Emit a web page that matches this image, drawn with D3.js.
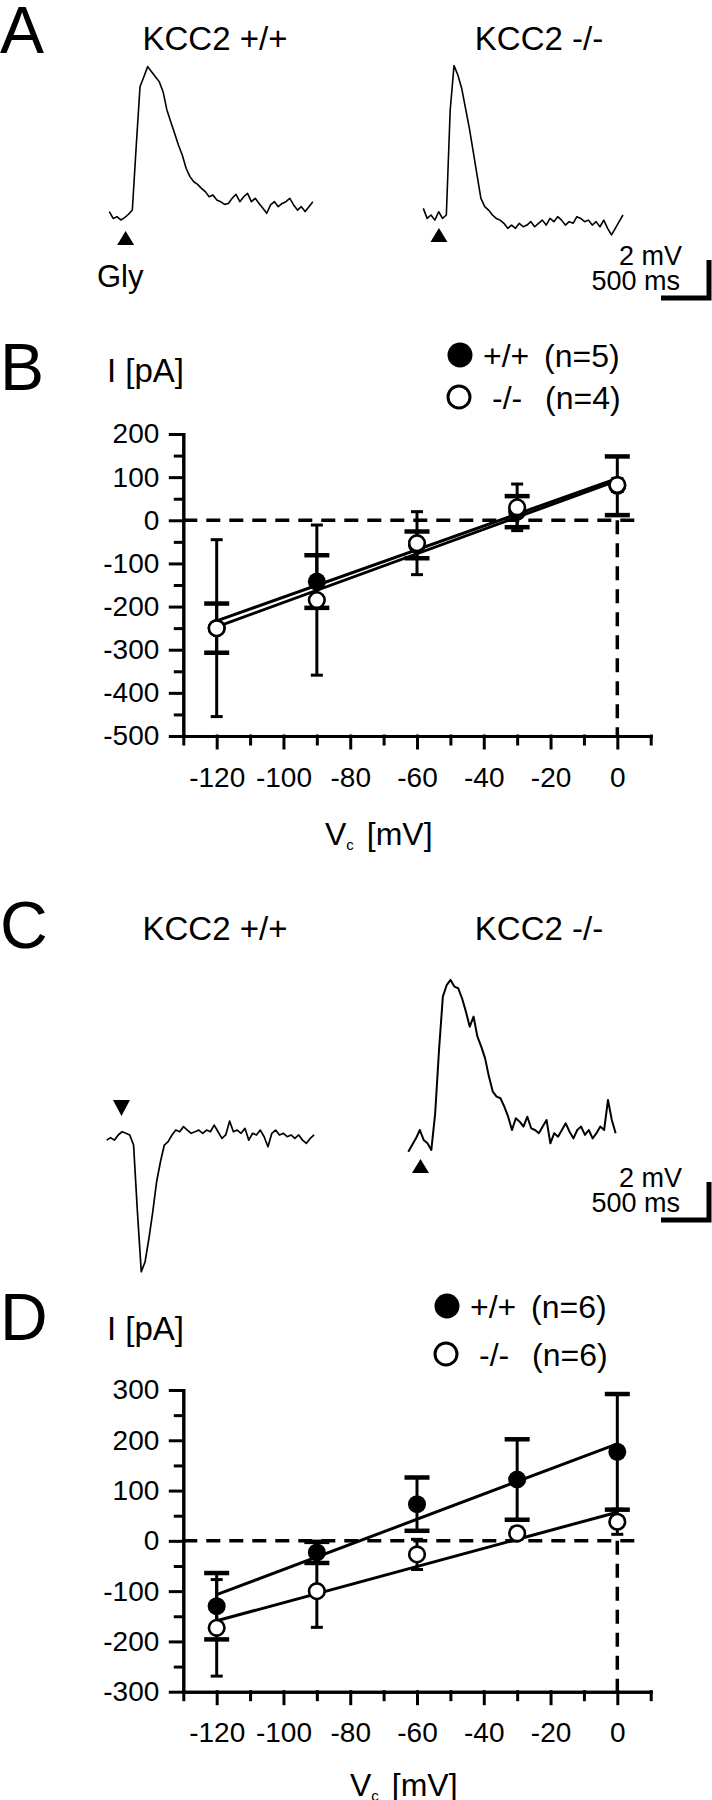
<!DOCTYPE html>
<html lang="en">
  <head>
    <meta charset="UTF-8" />
    <title>KCC2 glycine responses</title>
    <script src="https://d3js.org/d3.v7.min.js"></script>
    <style>
      body { margin: 0; background: #fff; }
      svg { font-family: "Liberation Sans", Arial, sans-serif; }
      .axis path, .axis line { stroke: #000; stroke-width: 3; stroke-linecap: square; }
      .axis text { font-size: 28px; fill: #000; font-family: "Liberation Sans", Arial, sans-serif; }
    </style>
  </head>
  <body>
    <div id="chart"></div>
    <script>
      // ---- voltage traces, mV relative to baseline, one sample every 40 ms ----
      const traceStep = 40;
      const traceA_wt = [0.18,-0.18,-0.09,-0.26,-0.14,0.04,0.26,3.6,6.75,7.28,7.81,7.54,7.28,7.02,6.49,5.53,4.91,4.30,3.68,3.16,2.46,2.02,1.75,1.61,1.40,1.23,0.96,1.05,0.79,0.70,0.56,0.61,0.88,1.09,0.70,0.96,1.14,0.70,0.88,0.61,0.35,0.09,0.53,0.70,0.44,0.61,0.70,0.88,0.53,0.26,0.44,0.18,0.44,0.70];
      const traceA_ko = [0.44,-0.09,0.09,-0.18,0.26,-0.09,0.09,5.6,7.95,7.46,6.75,5.70,4.65,3.42,2.19,0.96,0.53,0.35,0.09,-0.09,-0.18,-0.35,-0.61,-0.44,-0.61,-0.35,-0.53,-0.44,-0.26,-0.53,-0.35,-0.18,-0.44,-0.09,-0.26,0.00,-0.18,-0.44,-0.26,-0.35,0.00,-0.09,-0.26,-0.18,-0.44,-0.26,-0.53,-0.18,-0.61,-0.96,-0.61,-0.26,0.09];
      const traceC_wt = [-0.18,-0.05,-0.18,0.09,0.26,0.18,0.09,-0.44,-3.95,-7.11,-6.58,-5.35,-3.95,-2.37,-1.32,-0.44,-0.26,0.09,0.35,0.26,0.53,0.35,0.18,0.26,0.35,0.18,0.35,0.26,0.61,0.26,-0.09,0.09,0.82,0.26,0.35,0.18,0.44,-0.18,0.18,0.09,0.35,0.00,-0.53,0.18,0.35,0.09,0.18,0.00,0.09,-0.09,0.09,-0.18,-0.35,-0.09,0.09];
      const traceC_ko = [-0.44,-0.09,0.26,0.70,0.18,0.00,-0.35,1.58,4.91,7.72,8.33,8.60,8.25,8.16,7.63,6.93,6.14,6.67,5.61,5.09,4.47,3.51,2.72,2.46,2.37,1.93,1.40,0.70,1.32,1.14,0.88,1.40,0.79,0.70,0.53,0.88,1.23,0.00,0.53,0.35,0.70,1.05,0.61,0.26,0.70,0.88,0.44,0.70,0.26,0.53,0.88,0.70,2.28,1.23,0.53];
      // glycine application time (ms from trace start): A +/+, A -/-, C +/+, C -/-
      const stimTimes = [170, 163, 154, 127];

      // ---- I/V data ----
      const vc = [-120, -90, -60, -30, 0];
      const ivB_wt = [-250, -142, -57, 20, 80];
      const ivB_wtErr = [57, 61, 31, 36, 68];
      const ivB_ko = [-250, -185, -53, 30, 82];
      const ivB_koErr = [205, 174, 73, 54, 15];
      const fitB_wt = [-233, 97];
      const fitB_ko = [-247, 92];
      const ivD_wt = [-130, -23, 73, 122, 177];
      const ivD_wtErr = [66, 21, 53, 80, 115];
      const ivD_ko = [-173, -100, -27, 15, 38];
      const ivD_koErr = [96, 72, 30, 12, 25];
      const fitD_wt = [-107, 193];
      const fitD_ko = [-159, 57];
      const fitV = [-120, 0];

      const vTicks = [-120, -100, -80, -60, -40, -20, 0];
      const vMinor = [-130, -110, -90, -70, -50, -30, -10, 10];
      const iTicksB = [200, 100, 0, -100, -200, -300, -400, -500];
      const iTicksD = [300, 200, 100, 0, -100, -200, -300];

      const svg = d3.select('#chart').append('svg')
        .attr('width', 712).attr('height', 1800);

      function label(x, y, str, size, anchor) {
        return svg.append('text')
          .attr('x', x).attr('y', y)
          .attr('font-size', size + 'px')
          .attr('text-anchor', anchor || 'start')
          .text(str);
      }

      // panel letters and titles
      label(0, 53, 'A', 66);
      label(0, 390, 'B', 66);
      label(0, 948, 'C', 66);
      label(0, 1340, 'D', 66);
      label(215, 50, 'KCC2 +/+', 33, 'middle');
      label(539, 50, 'KCC2 -/-', 33, 'middle');
      label(215, 940, 'KCC2 +/+', 33, 'middle');
      label(539, 940, 'KCC2 -/-', 33, 'middle');
      label(97, 287, 'Gly', 31);

      // ---- traces ----
      function drawTrace(data, stim, x0, y0, tipY, up, sw) {
        const x = d3.scaleLinear().domain([0, 500]).range([x0, x0 + 48]);
        const y = d3.scaleLinear().domain([0, 2]).range([y0, y0 - 38]);
        const line = d3.line().x((d, i) => x(i * traceStep)).y((d) => y(d));
        svg.append('path').datum(data)
          .attr('d', line)
          .attr('fill', 'none')
          .attr('stroke', '#000')
          .attr('stroke-width', sw)
          .attr('stroke-linejoin', 'round');
        const sx = x(stim);
        const base = up ? tipY + 14 : tipY - 16;
        svg.append('path')
          .attr('d', `M${sx},${tipY}L${sx - 8.5},${base}L${sx + 8.5},${base}Z`)
          .attr('fill', '#000');
        return { x, y };
      }

      const tA = drawTrace(traceA_wt, stimTimes[0], 109.3, 215, 231, true, 1.6);
      drawTrace(traceA_ko, stimTimes[1], 423.3, 216.7, 228, true, 1.6);
      drawTrace(traceC_wt, stimTimes[2], 106.7, 1136.7, 1116, false, 1.7);
      drawTrace(traceC_ko, stimTimes[3], 408.3, 1143.3, 1159, true, 2);

      // scale bars 500 ms / 2 mV
      function scaleBar(cx, cy) {
        const w = tA.x(500) - tA.x(0);
        const h = tA.y(0) - tA.y(2);
        svg.append('path')
          .attr('d', `M${cx - w},${cy}H${cx}V${cy - h}`)
          .attr('fill', 'none')
          .attr('stroke', '#000')
          .attr('stroke-width', 5);
        label(682, cy - 33, '2 mV', 27, 'end');
        label(680, cy - 8, '500 ms', 27, 'end');
      }
      scaleBar(709, 298);
      scaleBar(709, 1220);

      // ---- I/V panels ----
      const hyphen = (d) => String(d);

      function drawIV(o) {
        const x = d3.scaleLinear().domain([-130, 10]).range([183.3, 650.7]);
        const y = d3.scaleLinear().domain([o.ticks[0], o.ticks[o.ticks.length - 1]])
          .range([o.top, o.bottom]);
        const g = svg.append('g');
        const yMinor = o.ticks.slice(1).map((v, i) => (v + o.ticks[i]) / 2);

        g.append('g').attr('class', 'axis')
          .attr('transform', `translate(${x(-130)},0)`)
          .call(d3.axisLeft(y).tickValues(yMinor).tickSize(8).tickSizeOuter(0).tickFormat(''));
        g.append('g').attr('class', 'axis')
          .attr('transform', `translate(${x(-130)},0)`)
          .call(d3.axisLeft(y).tickValues(o.ticks).tickSize(13).tickSizeOuter(0)
            .tickPadding(11).tickFormat(hyphen));
        g.append('g').attr('class', 'axis')
          .attr('transform', `translate(0,${o.bottom})`)
          .call(d3.axisBottom(x).tickValues(vMinor).tickSize(8).tickSizeOuter(0).tickFormat(''));
        g.append('g').attr('class', 'axis')
          .attr('transform', `translate(0,${o.bottom})`)
          .call(d3.axisBottom(x).tickValues(vTicks).tickSize(12).tickSizeOuter(0)
            .tickPadding(o.xPad).tickFormat(hyphen));

        // zero reference lines
        g.append('line')
          .attr('x1', x(-130)).attr('x2', x(7))
          .attr('y1', y(0)).attr('y2', y(0))
          .attr('stroke', '#000').attr('stroke-width', 3.5)
          .attr('stroke-dasharray', '14,9');
        g.append('line')
          .attr('x1', x(0)).attr('x2', x(0))
          .attr('y1', y(0)).attr('y2', o.bottom)
          .attr('stroke', '#000').attr('stroke-width', 3.5)
          .attr('stroke-dasharray', '14,9');

        // error bars: thin caps for -/-, thick caps for +/+
        function errBars(mean, err, capW, capSW) {
          vc.forEach((v, i) => {
            const lo = y(mean[i] - err[i]);
            const hi = y(mean[i] + err[i]);
            g.append('line').attr('x1', x(v)).attr('x2', x(v))
              .attr('y1', lo).attr('y2', hi)
              .attr('stroke', '#000').attr('stroke-width', 3);
            [lo, hi].forEach((cy) => {
              g.append('line')
                .attr('x1', x(v) - capW / 2).attr('x2', x(v) + capW / 2)
                .attr('y1', cy).attr('y2', cy)
                .attr('stroke', '#000').attr('stroke-width', capSW);
            });
          });
        }
        errBars(o.ko, o.koErr, 12, 3);
        errBars(o.wt, o.wtErr, 25, 4.5);

        // linear fits
        const fitLine = d3.line().x((d) => x(d[0])).y((d) => y(d[1]));
        [o.fitWt, o.fitKo].forEach((f) => {
          g.append('path')
            .datum(fitV.map((v, i) => [v, f[i]]))
            .attr('d', fitLine)
            .attr('fill', 'none')
            .attr('stroke', '#000')
            .attr('stroke-width', 3);
        });

        // means
        g.selectAll('.wt').data(o.wt).enter().append('circle')
          .attr('cx', (d, i) => x(vc[i])).attr('cy', (d) => y(d))
          .attr('r', 9).attr('fill', '#000');
        g.selectAll('.ko').data(o.ko).enter().append('circle')
          .attr('cx', (d, i) => x(vc[i])).attr('cy', (d) => y(d))
          .attr('r', 7.8).attr('fill', '#fff')
          .attr('stroke', '#000').attr('stroke-width', 2.6);

        // axis titles
        label(107, o.iLabelY, 'I [pA]', 33);
        const vt = label(o.vLabelX, o.vLabelY, 'V', 32);
        vt.append('tspan').attr('font-size', '15px').attr('dy', 5).text('c');
        vt.append('tspan').attr('dy', -5).attr('dx', 4).text(' [mV]');

        // legend
        const lx = o.legendX;
        g.append('circle').attr('cx', lx).attr('cy', o.legendY[0])
          .attr('r', 12.5).attr('fill', '#000');
        g.append('circle').attr('cx', lx - 1).attr('cy', o.legendY[1])
          .attr('r', 11).attr('fill', '#fff')
          .attr('stroke', '#000').attr('stroke-width', 3);
        label(lx + 23, o.legendY[0] + 11.5, '+/+', 32);
        label(lx + 84, o.legendY[0] + 11.5, `(n=${o.n[0]})`, 32);
        label(lx + 32, o.legendY[1] + 11.5, '-/-', 32);
        label(lx + 85, o.legendY[1] + 11.5, `(n=${o.n[1]})`, 32);
      }

      drawIV({
        ticks: iTicksB, top: 434, bottom: 736, xPad: 19,
        wt: ivB_wt, wtErr: ivB_wtErr, ko: ivB_ko, koErr: ivB_koErr,
        fitWt: fitB_wt, fitKo: fitB_ko,
        iLabelY: 382, vLabelX: 325, vLabelY: 845,
        legendX: 460, legendY: [355, 397], n: [5, 4],
      });
      drawIV({
        ticks: iTicksD, top: 1390, bottom: 1691.7, xPad: 18,
        wt: ivD_wt, wtErr: ivD_wtErr, ko: ivD_ko, koErr: ivD_koErr,
        fitWt: fitD_wt, fitKo: fitD_ko,
        iLabelY: 1340, vLabelX: 350, vLabelY: 1796,
        legendX: 447, legendY: [1306, 1354], n: [6, 6],
      });
    </script>
  </body>
</html>
